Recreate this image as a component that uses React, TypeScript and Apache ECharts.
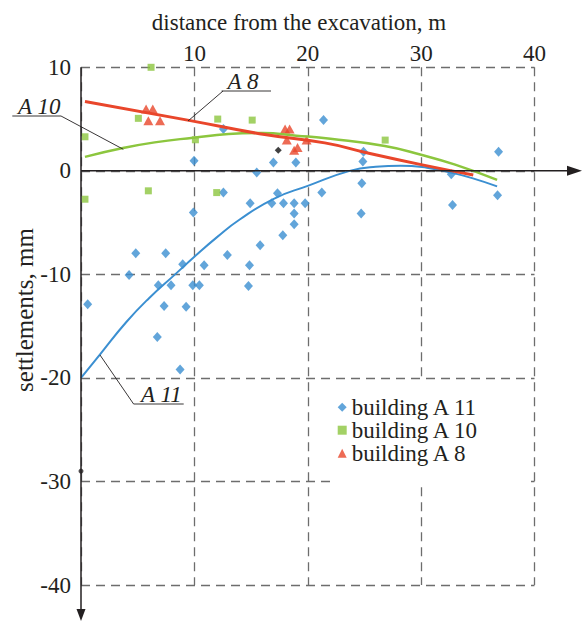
import React, { useEffect, useRef } from 'react';
import * as echarts from 'echarts';

const FONT = 'Liberation Serif, Times New Roman, serif';
const INK = '#231f20';
const BLUE = '#3b8fd1';
const GREEN = '#8cc63e';
const RED = '#e9462b';

const xTicks = [0, 10, 20, 30, 40];
const yTicks = [-40, -30, -20, -10, 0, 10];

const seriesNames = ['building A 11', 'building A 10', 'building A 8'];

const a11Points: [number, number][] = [
  [12.56, 4.03], [9.97, 0.97], [15.5, -0.15], [12.56, -2.09], [21.39, 4.9],
  [24.92, 1.84], [24.86, 0.9], [36.83, 1.84], [16.97, 0.81], [18.95, 0.81],
  [32.66, -0.32], [24.77, -1.19], [21.24, -2.09], [17.33, -2.16], [36.74, -2.35],
  [14.92, -3.12], [16.83, -3.12], [17.86, -3.12], [18.8, -3.12], [19.77, -3.12],
  [18.8, -4.12], [24.71, -4.12], [18.8, -5.15], [17.8, -6.22], [15.8, -7.19],
  [14.86, -9.12], [32.77, -3.29], [9.91, -4.02], [4.83, -7.96], [7.47, -7.96],
  [12.91, -8.12], [8.97, -9.02], [10.86, -9.12], [4.24, -10.05], [6.82, -11.05],
  [7.94, -11.05], [9.86, -11.05], [10.44, -11.05], [14.77, -11.12], [0.59, -12.89],
  [7.33, -13.05], [9.27, -13.12], [6.73, -16.05], [8.74, -19.18],
];

const a10Points: [number, number][] = [
  [6.18, 10.0], [5.06, 5.07], [0.35, 3.29], [12.06, 5.0], [15.1, 4.9],
  [10.09, 3.0], [26.83, 2.97], [5.94, -1.93], [0.35, -2.74], [11.97, -2.1],
];

const a8Points: [number, number][] = [
  [5.74, 5.97], [6.33, 5.97], [5.94, 4.84], [6.97, 4.84],
  [18.0, 4.03], [18.4, 4.03], [18.15, 2.97], [18.8, 2.0], [19.1, 2.26], [19.9, 2.97],
];

const otherPoints: [number, number][] = [[17.4, 2.0]];
const axisDot: [number, number][] = [[0, -29]];

const a11Fit: [number, number][] = [
  [0, -20], [1.7, -17.7], [4, -14.6], [6, -12.3], [8.3, -10], [10, -8.3],
  [12, -6.4], [14, -4.7], [17, -2.7], [20, -1.45], [23.7, 0], [26, 0.4],
  [28.2, 0.5], [30.5, 0.3], [32.6, -0.16], [34.5, -0.7], [36.7, -1.5],
];

const a10Fit: [number, number][] = [
  [0.35, 1.35], [3.7, 2.2], [6.5, 2.75], [9.9, 3.2], [13, 3.55], [16, 3.65],
  [19, 3.4], [22, 3.1], [26.8, 2.4], [30, 1.55], [33, 0.6], [36.7, -0.87],
];

const a8Fit: [number, number][] = [
  [0.35, 6.7], [9.4, 4.9], [16.2, 3.5], [21.5, 2.7], [25, 1.8], [30, 0.6], [34.6, -0.4],
];

export default function App() {
  const ref = useRef<HTMLDivElement>(null);

  useEffect(() => {
    if (!ref.current) return;
    const chart = echarts.init(ref.current, undefined, { renderer: 'svg' });
    const grid = { type: [9, 6], color: '#6d6d6d', width: 1.3 };
    const labelStyle = { fontFamily: FONT, fontSize: 23, color: INK };

    chart.setOption({
      animation: false,
      textStyle: { fontFamily: FONT },
      grid: { left: 81, right: 47.5, top: 67.3, bottom: 36, containLabel: false },
      xAxis: {
        type: 'value', position: 'top',
        min: xTicks[0], max: xTicks[xTicks.length - 1], interval: 10,
        axisLine: { show: false }, axisTick: { show: false },
        axisLabel: { ...labelStyle, margin: 2, formatter: (v: number) => (v === 0 ? '' : String(v)) },
        splitLine: { show: true, lineStyle: grid },
      },
      yAxis: {
        type: 'value',
        min: yTicks[0], max: yTicks[yTicks.length - 1], interval: 10,
        axisLine: { show: false }, axisTick: { show: false },
        axisLabel: { ...labelStyle, margin: 10 },
        splitLine: { show: true, lineStyle: grid },
      },
      legend: {
        orient: 'vertical', left: 330, top: 380,
        data: [
          { name: seriesNames[0], icon: 'diamond' },
          { name: seriesNames[1], icon: 'rect' },
          { name: seriesNames[2], icon: 'triangle' },
        ],
        itemWidth: 9, itemHeight: 9, itemGap: 0,
        backgroundColor: '#ffffff',
        padding: [15.7, 50, 18.5, 7.7],
        selectedMode: false,
        textStyle: { fontFamily: FONT, fontSize: 23, color: INK, lineHeight: 22 },
      },
      series: [
        { name: seriesNames[0], type: 'scatter', symbol: 'diamond', symbolSize: [9, 10], itemStyle: { color: BLUE }, data: a11Points, z: 3 },
        { name: seriesNames[1], type: 'scatter', symbol: 'rect', symbolSize: 7, itemStyle: { color: GREEN }, data: a10Points, z: 3 },
        { name: seriesNames[2], type: 'scatter', symbol: 'triangle', symbolSize: [10, 9], itemStyle: { color: RED }, data: a8Points, z: 3 },
        { name: 'other', type: 'scatter', symbol: 'diamond', symbolSize: 7, itemStyle: { color: '#111' }, data: otherPoints, z: 3 },
        { name: 'axisDot', type: 'scatter', symbol: 'circle', symbolSize: 5, itemStyle: { color: INK }, data: axisDot, z: 6 },
        { name: 'fitA11', type: 'line', smooth: true, showSymbol: false, lineStyle: { color: BLUE, width: 2 }, data: a11Fit, z: 4 },
        { name: 'fitA10', type: 'line', smooth: true, showSymbol: false, lineStyle: { color: GREEN, width: 2.5 }, data: a10Fit, z: 4 },
        { name: 'fitA8', type: 'line', smooth: true, showSymbol: false, lineStyle: { color: RED, width: 3 }, data: a8Fit, z: 4 },
      ],
    });

    const o = chart.convertToPixel({ gridIndex: 0 }, [0, 0]) as number[];
    const top = chart.convertToPixel({ gridIndex: 0 }, [0, yTicks[yTicks.length - 1]]) as number[];
    const W = 582, H = 621;
    const thin = { stroke: INK, lineWidth: 0.9 };
    const axisS = { stroke: INK, lineWidth: 1.5 };
    const italic = { fontFamily: FONT, fontSize: 23, fontStyle: 'italic', fill: INK, align: 'left', verticalAlign: 'middle' };

    chart.setOption({
      graphic: [
        { type: 'line', z: 50, shape: { x1: o[0], y1: top[1], x2: o[0], y2: H - 10 }, style: axisS },
        { type: 'polygon', z: 50, shape: { points: [[o[0], H], [o[0] - 4.5, H - 12], [o[0] + 4.5, H - 12]] }, style: { fill: INK } },
        { type: 'line', z: 50, shape: { x1: o[0], y1: o[1], x2: W - 12, y2: o[1] }, style: axisS },
        { type: 'polygon', z: 50, shape: { points: [[W, o[1]], [W - 15, o[1] - 5], [W - 15, o[1] + 5]] }, style: { fill: INK } },
        { type: 'text', z: 50, x: 299, y: 22.4, style: { text: 'distance from the excavation, m', fontFamily: FONT, fontSize: 23, fill: INK, align: 'center', verticalAlign: 'middle' } },
        { type: 'text', z: 50, x: 24, y: 310, rotation: Math.PI / 2, style: { text: 'settlements, mm', fontFamily: FONT, fontSize: 25, fill: INK, align: 'center', verticalAlign: 'middle' } },
        // A 8
        { type: 'text', z: 50, x: 227.5, y: 81.5, style: { text: 'A 8', ...italic } },
        { type: 'line', z: 50, shape: { x1: 221.6, y1: 91, x2: 271, y2: 91 }, style: thin },
        { type: 'line', z: 50, shape: { x1: 223, y1: 91, x2: 188, y2: 121 }, style: thin },
        // A 10
        { type: 'text', z: 50, x: 18, y: 106, style: { text: 'A 10', ...italic } },
        { type: 'line', z: 50, shape: { x1: 12.3, y1: 116, x2: 61, y2: 116 }, style: thin },
        { type: 'line', z: 50, shape: { x1: 61, y1: 116, x2: 123.3, y2: 149.3 }, style: thin },
        // A 11
        { type: 'text', z: 50, x: 141, y: 394, style: { text: 'A 11', ...italic } },
        { type: 'line', z: 50, shape: { x1: 133.6, y1: 404, x2: 183.7, y2: 404 }, style: thin },
        { type: 'line', z: 50, shape: { x1: 100, y1: 355, x2: 133.6, y2: 404 }, style: thin },
      ],
    });

    return () => chart.dispose();
  }, []);

  return <div ref={ref} style={{ position: 'absolute', left: 0, top: 0, width: 582, height: 621, background: '#fff' }} />;
}
